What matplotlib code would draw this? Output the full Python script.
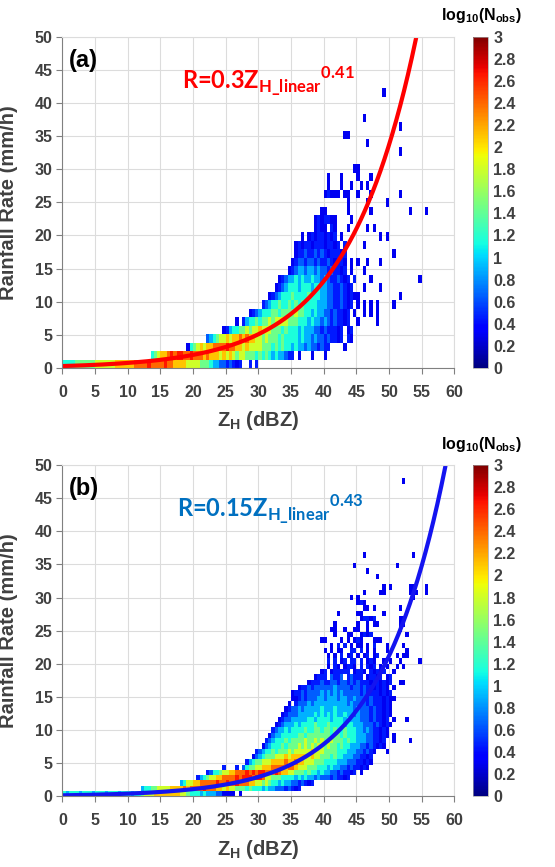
import numpy as np
import matplotlib
matplotlib.use("Agg")
import matplotlib.pyplot as plt
from matplotlib.ticker import FuncFormatter

plt.rcParams["font.family"] = ["Liberation Sans", "DejaVu Sans"]
plt.rcParams["font.weight"] = "bold"
plt.rcParams["axes.labelweight"] = "bold"
plt.rcParams["mathtext.fontset"] = "custom"
plt.rcParams["mathtext.rm"] = "Liberation Sans:bold"
plt.rcParams["mathtext.sf"] = "Lato:bold"

# 2D histograms of log10(N_obs).
# one entry per rainfall-rate bin: (index of first Z_H bin, cell codes)
# "." = empty cell, digit = index into LEVELS, spaces are ignored
Z_STEP = 0.5
R_STEP_A = 1.28
R_STEP_B = 0.8
LEVELS = [0.3, 0.45, 0.65, 0.9, 1.15, 1.45, 1.8, 2.1, 2.4, 2.65]

ROWS_A = [
    (0, "4444 555555 666666 777777 888898888988 7777 6666 555 433 2212 101 ..1.1"),
    (27, "4567789899889 888787 776767 656655 545454 3433 21 1.0...0...0"),
    (38, "045 6767 78888988 77676666 5554545 44343 3232 2121 1....0"),
    (44, "23456 6767 787877 665655 545444 434332 322121 101.10"),
    (49, "01344 5565 667666 555454 443433 322121 1101.01"),
    (53, "0.134 454 556566 665554 443433 232121 101 ..0.....0"),
    (57, "012 344 455455 556554 434332 212110 1.0 ..0.0.0"),
    (61, "123 445445 454544 443332 211210 1.0.0.0.0 ....0"),
    (63, "012 344454 444544 433221 121010 0............0"),
    (65, "012 344434 443443 322112 101 ...0....0"),
    (66, "012 334343 343323 211210 1.1 ....0..............0"),
    (69, "01 233233 232212 1101 .0...0"),
    (70, "0 122122 121121 0110 .0.0..0...0"),
    (71, "0 112112 121011 101 ..............0"),
    (71, "0 101101 110110 1.1 .....0"),
    (73, "0.010110101.0 ...........0.0"),
    (77, "0100.10. ..0.....0.0"),
    (77, "0101100 ....0"),
    (79, "00 ......0......0...........0....0"),
    (87, "0.....0.....0"),
    (80, "0100 0 . 00 ..0 ...0 ........0"),
    (81, "0...0..0..0.0"),
    (81, "0...0....0...0"),
    (89, "00"),
    (0, ""),
    (103, "0"),
    (93, "0"),
    (86, "00"),
    (103, "0"),
    (92, "0"),
    (0, ""),
    (0, ""),
    (98, "0"),
]

ROWS_B = [
    (0, "434443444344434443444344 56667777777766 54 443433 322 0000.0"),
    (24, "34 455666 67777878 88898887 767665 554544 434332 2212 101"),
    (36, "34 6677 8888898898 898887 766565 443433 2212101"),
    (41, "134 5667 78888989 998998 665554 44434343 323222 121101"),
    (44, "1244 5667 788898 989988 898776 655545 443433 221211 01.0"),
    (49, "1...1.2 455 667778 888788 766655 544434 332212 11010"),
    (56, "134 556667 777877 877666 555444 433322 211010"),
    (58, "023 455566 676777 776766 555454 433322 1101"),
    (59, "123 445455 565666 667666 555544 433322 1210 ...0"),
    (61, "023 444545 556565 656656 554544 333221 2101 0"),
    (62, "12 344454 555565 565655 655545 443332 21101 ..0....0"),
    (63, "02 334444 455455 555554 554544 433322 11010 .0"),
    (64, "12 334344 445445 545545 445444 332321 1010"),
    (65, "01 233343 444454 445444 434433 322212 1010"),
    (66, "01 223333 344344 443444 343332 221211 01.0 ...0"),
    (67, "01 222333 334343 434334 332322 212110 10"),
    (68, "01 223233 333433 343333 323222 121101 0"),
    (69, "0.1 222323 333333 333232 222121 11010"),
    (70, "001 212223 323332 332232 221211 10100"),
    (70, "01 121222 232323 232222 212111 10101"),
    (72, "0 112122 222232 222122 121101 010.0"),
    (75, "01 112112 212212 121110 110101 ..00"),
    (77, "01 11.211 2.1211 1.0110 1.01"),
    (79, "0 1.0111 11.011 0.1010 1..0"),
    (81, "0.10.01 10.1.10 1 .0.0..0.0"),
    (81, "1.1.01. 11.1.01 0..0 .0..0.....0"),
    (81, "0.0.1.0 1.0.01. 01 .....0.00"),
    (80, "0 . 0.00..1 1.1.0.0 ...0.....0"),
    (82, "0. 1.1.0.0 0.0.1 ...0....0"),
    (79, "00 .... 0.0 . 010 ... 000"),
    (83, "0 ... 00 .. 0101 .......... 0"),
    (82, "00 .. 0 .. 00 .. 0 ......... 0"),
    (83, "0 ...... 0 .. 0 . 00 ...... 00"),
    (91, "01101 ....... 00"),
    (84, "0 ..... 00 ...... 0"),
    (92, "00 . 0 ....... 0"),
    (90, "010"),
    (88, "0.0 ................ 0"),
    (92, "0 .... 00 ....... 000 .. 0"),
    (98, "0.0 ..... 00 ... 0"),
    (0, ""),
    (96, "0"),
    (93, "0"),
    (89, "0 ............ 0"),
    (0, ""),
    (92, "0 .............. 0"),
    (0, ""), (0, ""), (0, ""), (0, ""), (0, ""), (0, ""), (0, ""),
    (0, ""), (0, ""), (0, ""), (0, ""), (0, ""), (0, ""),
    (104, "0"),
]

# fitted relations R = a * Z_linear ** b
FIT_A = (0.3, 0.41)
FIT_B = (0.15, 0.43)

GREY = "#404040"


def to_grid(rows, ncols=120):
    grid = np.full((len(rows), ncols), np.nan)
    for i, (start, cells) in enumerate(rows):
        for j, ch in enumerate(cells.replace(" ", "")):
            if ch != ".":
                grid[i, start + j] = LEVELS[int(ch)]
    return np.ma.masked_invalid(grid)


def draw_panel(fig, bottom, rows, r_step, fit, line_color, text_color, label, formula):
    ax = fig.add_axes([0.1123, bottom, 0.7063, 0.3822])
    cax = fig.add_axes([0.852, bottom, 0.027, 0.3822])

    grid = to_grid(rows)
    z_edges = np.arange(grid.shape[1] + 1) * Z_STEP
    r_edges = np.arange(grid.shape[0] + 1) * r_step
    mesh = ax.pcolormesh(z_edges, r_edges, grid, cmap="jet", vmin=0, vmax=3)

    z = np.linspace(0, 60, 601)
    a, b = fit
    ax.plot(z, a * (10 ** (z / 10)) ** b, color=line_color, lw=3)

    ax.set_xlim(0, 60)
    ax.set_ylim(0, 50)
    ax.set_xticks(range(0, 61, 5))
    ax.set_yticks(range(0, 51, 5))
    ax.set_axisbelow(True)
    ax.grid(True, color="#dcdcdc", lw=0.8)
    for side in ["top", "right"]:
        ax.spines[side].set_color("#dcdcdc")
    for side in ["left", "bottom"]:
        ax.spines[side].set_color("#808080")
    ax.tick_params(axis="both", direction="out", length=4, color="#808080",
                   labelsize=11.5, labelcolor=GREY)
    ax.tick_params(axis="x", pad=8)
    ax.tick_params(axis="y", pad=3)
    for t in ax.get_xticklabels() + ax.get_yticklabels():
        t.set_fontweight("bold")

    ax.set_xlabel(r"Z$_\mathrm{H}$ (dBZ)", fontsize=14.5, color=GREY, fontweight="bold")
    ax.set_ylabel("Rainfall Rate (mm/h)", fontsize=14.5, color=GREY, fontweight="bold")
    ax.xaxis.set_label_coords(0.5, -0.125)
    ax.yaxis.set_label_coords(-0.113, 0.5)

    ax.text(1.0, 46.4, label, fontsize=17, color="black", va="center", fontweight="bold")
    ax.text(formula[0], 42.2, formula[1], fontfamily="Lato", fontweight="bold",
            fontsize=17, color=text_color, va="baseline")

    cb = fig.colorbar(mesh, cax=cax, ticks=np.arange(0, 3.01, 0.2))
    cb.ax.yaxis.set_major_formatter(FuncFormatter(lambda v, p: "%g" % round(v, 1)))
    cb.ax.tick_params(length=0, labelsize=11.5, labelcolor=GREY, pad=4)
    for t in cb.ax.get_yticklabels():
        t.set_fontweight("bold")
    cb.outline.set_linewidth(0.5)
    cb.outline.set_edgecolor("#a0a0a0")
    fig.text(0.868, bottom + 0.3822 + 0.013, r"log$_{\mathrm{10}}$(N$_{\mathrm{obs}}$)",
             fontsize=11.5, ha="center", va="bottom", fontweight="bold")
    return ax


fig = plt.figure(figsize=(5.55, 8.67), dpi=100)

draw_panel(fig, 0.5755, ROWS_A, R_STEP_A, FIT_A, "#ff0000", "#ff0000", "(a)",
           (18.3, r"R=0.3Z$_{\mathsf{H\_linear}}{}^{\mathsf{0.41}}$"))
draw_panel(fig, 0.0815, ROWS_B, R_STEP_B, FIT_B, "#1414f0", "#0070c0", "(b)",
           (17.5, r"R=0.15Z$_{\mathsf{H\_linear}}{}^{\mathsf{0.43}}$"))

fig.savefig("out.png", dpi=100)
